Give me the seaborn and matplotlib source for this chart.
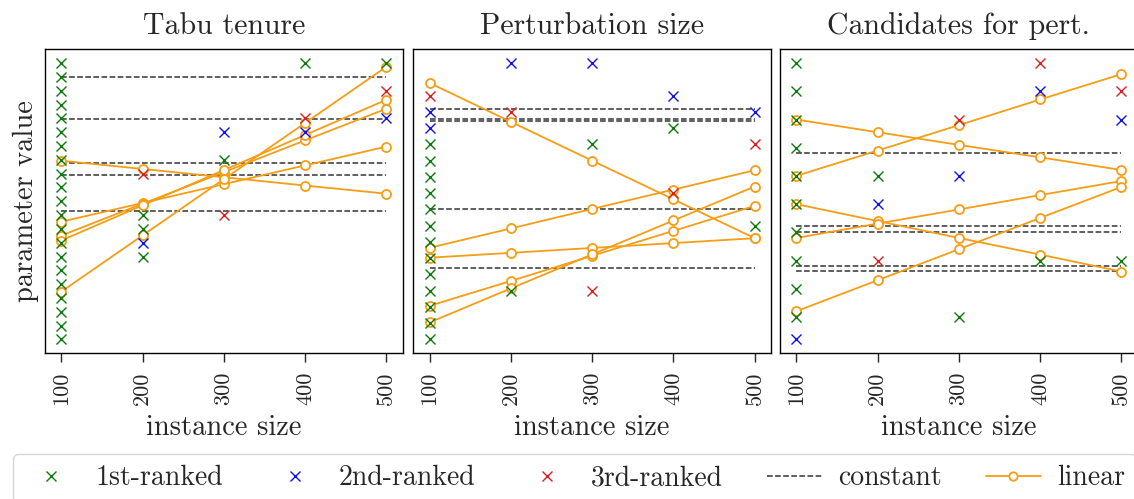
import numpy as np
import pandas as pd
import seaborn as sns
import matplotlib
matplotlib.use("Agg")
import matplotlib.pyplot as plt
from matplotlib.lines import Line2D

sns.set_style("ticks")
plt.rcParams["font.family"] = ["serif"]
plt.rcParams["font.serif"] = ["cmr10", "DejaVu Serif"]
plt.rcParams["mathtext.fontset"] = "cm"
plt.rcParams["axes.formatter.use_mathtext"] = True

# ---- data -------------------------------------------------------------
sizes = [100, 200, 300, 400, 500]
size_labels = ["100", "200", "300", "400", "500"]
panel_titles = ["Tabu tenure", "Perturbation size", "Candidates for pert."]
rank_names = ["1st-ranked", "2nd-ranked", "3rd-ranked"]

# best configurations per instance size: {size: [values]}
tabu_first = {100: list(range(0, 21)), 200: [9, 8, 6], 300: [13], 400: [20], 500: [20]}
tabu_second = {200: [7], 300: [15], 400: [15], 500: [16]}
tabu_third = {200: [12], 300: [9], 400: [16], 500: [18]}
tabu_constant = [19.0, 15.95, 12.75, 11.9, 9.3]
tabu_linear = [
    [12.94, 12.34, 11.74, 11.14, 10.55],
    [8.52, 9.88, 11.24, 12.60, 13.96],
    [7.52, 9.82, 12.11, 14.41, 16.70],
    [7.16, 9.71, 12.26, 14.80, 17.35],
    [3.46, 7.53, 11.60, 15.67, 19.74],
]

pert_first = {100: list(range(0, 13)), 200: [3], 300: [12], 400: [13], 500: [7]}
pert_second = {100: [14, 13], 200: [17], 300: [17], 400: [15], 500: [14]}
pert_third = {100: [15], 200: [14], 300: [3], 400: [9], 500: [12]}
pert_constant = [14.16, 13.59, 13.43, 8.01, 4.42]
pert_linear = [
    [15.78, 13.39, 11.00, 8.62, 6.23],
    [5.64, 6.83, 8.03, 9.22, 10.41],
    [5.03, 5.33, 5.63, 5.93, 6.23],
    [2.07, 3.60, 5.15, 6.68, 8.22],
    [1.05, 3.14, 5.23, 7.32, 9.41],
]

cand_first = {100: list(range(1, 11)), 200: [6], 300: [1], 400: [3], 500: [3]}
cand_second = {100: [0.2], 200: [5], 300: [6], 400: [9], 500: [8]}
cand_third = {200: [3], 300: [8], 400: [10], 500: [9]}
cand_constant = [6.8, 4.21, 4.02, 2.82, 2.62]
cand_linear = [
    [8.00, 7.55, 7.10, 6.66, 6.21],
    [6.00, 6.90, 7.80, 8.71, 9.61],
    [5.00, 4.40, 3.80, 3.21, 2.61],
    [3.80, 4.31, 4.81, 5.32, 5.82],
    [1.20, 2.30, 3.40, 4.51, 5.61],
]

panels = [
    (tabu_first, tabu_second, tabu_third, tabu_constant, tabu_linear),
    (pert_first, pert_second, pert_third, pert_constant, pert_linear),
    (cand_first, cand_second, cand_third, cand_constant, cand_linear),
]

rank_colors = ["#0a7a0a", "#1010e6", "#d81e1e"]
linear_color = "#f59d14"
const_color = "#333333"

# ---- figure -----------------------------------------------------------
W, H = 1134, 499
fig = plt.figure(figsize=(W / 100, H / 100), dpi=100)
ax_w = 357.7 / W
ax_h = 304.0 / H
ax_b = (H - 353.3) / H
lefts = [45.0 / W, 413.3 / W, 780.0 / W]

for i, (first, second, third, consts, linears) in enumerate(panels):
    ax = fig.add_axes([lefts[i], ax_b, ax_w, ax_h])

    # constant models: horizontal dashed lines across all sizes
    const_df = pd.DataFrame(
        [(k, s, c) for k, c in enumerate(consts) for s in (sizes[0], sizes[-1])],
        columns=["model", "size", "value"],
    )
    sns.lineplot(data=const_df, x="size", y="value", units="model", estimator=None,
                 color=const_color, linestyle="--", linewidth=1.1, ax=ax,
                 legend=False, zorder=2)

    # linear models
    lin_df = pd.DataFrame(
        [(k, s, v) for k, vals in enumerate(linears) for s, v in zip(sizes, vals)],
        columns=["model", "size", "value"],
    )
    sns.lineplot(data=lin_df, x="size", y="value", units="model", estimator=None,
                 color=linear_color, linewidth=1.3, marker="o", markersize=6.5,
                 markerfacecolor="white", markeredgecolor=linear_color,
                 markeredgewidth=1.3, ax=ax, legend=False, zorder=3)

    # ranked configurations
    for ranked, col in zip((first, second, third), rank_colors):
        pts = pd.DataFrame([(s, v) for s, vals in ranked.items() for v in vals],
                           columns=["size", "value"])
        sns.scatterplot(data=pts, x="size", y="value", marker="x", s=52,
                        color=col, linewidth=1.0, ax=ax, legend=False, zorder=4)

    ax.set_xticks(sizes)
    ax.set_xticklabels(size_labels, rotation=90, fontsize=16)
    ax.set_yticks([])
    ax.set_xlabel("instance size", fontsize=20.5, labelpad=7)
    ax.set_ylabel("parameter value" if i == 0 else "", fontsize=20.5)
    ax.set_title(panel_titles[i], fontsize=21.5, pad=11)
    ax.tick_params(axis="x", length=6.5, width=1.0, pad=6.5, direction="out")
    for sp in ax.spines.values():
        sp.set_visible(True)
        sp.set_linewidth(1.0)
        sp.set_color("black")

handles = [
    Line2D([], [], color=c, marker="x", linestyle="none", markersize=7, markeredgewidth=1.0)
    for c in rank_colors
] + [
    Line2D([], [], color=const_color, linestyle="--", linewidth=1.1),
    Line2D([], [], color=linear_color, linewidth=1.3, marker="o", markersize=6.0,
           markerfacecolor="white", markeredgewidth=1.3),
]
labels = rank_names + ["constant", "linear"]
fig.legend(handles, labels, loc="upper left", bbox_to_anchor=(12.5 / W, 1 - 454 / H),
           ncol=5, fontsize=20, frameon=True, borderaxespad=0, handletextpad=0.58,
           columnspacing=1.58, handlelength=2.0)

fig.savefig("out.png", dpi=100)
